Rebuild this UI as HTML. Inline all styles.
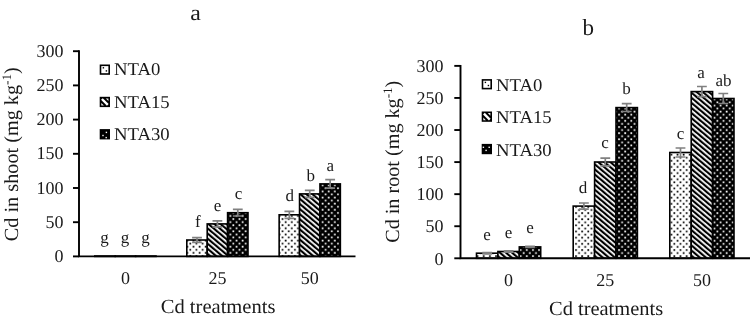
<!DOCTYPE html>
<html><head><meta charset="utf-8"><style>
html,body{margin:0;padding:0;background:#fff;width:750px;height:321px;overflow:hidden}
svg{display:block;will-change:transform}
text{font-family:"Liberation Serif", serif;fill:#1a1a1a;text-rendering:geometricPrecision}
</style></head><body>
<svg width="750" height="321" viewBox="0 0 750 321">
<defs>
<pattern id="LpDotW" patternUnits="userSpaceOnUse" x="4.8" y="2.75" width="6.15" height="6.15"><rect width="6.15" height="6.15" fill="#fff"/><rect x="0.2" y="0.2" width="1.7" height="1.7" fill="#000"/><rect x="3.275" y="3.275" width="1.7" height="1.7" fill="#000"/></pattern>
<pattern id="LpDotB" patternUnits="userSpaceOnUse" x="4.8" y="2.75" width="6.15" height="6.15"><rect width="6.15" height="6.15" fill="#000"/><rect x="0.2" y="0.2" width="1.7" height="1.7" fill="#fff"/><rect x="3.275" y="3.275" width="1.7" height="1.7" fill="#fff"/></pattern>
<pattern id="LpStr" patternUnits="userSpaceOnUse" x="0.325" width="3.9" height="3.9" patternTransform="rotate(-50)"><rect width="3.9" height="3.9" fill="#fff"/><rect width="2.15" height="3.9" fill="#000"/></pattern>
<pattern id="RpDotW" patternUnits="userSpaceOnUse" x="3.0" y="2.95" width="6.15" height="6.15"><rect width="6.15" height="6.15" fill="#fff"/><rect x="0.2" y="0.2" width="1.7" height="1.7" fill="#000"/><rect x="3.275" y="3.275" width="1.7" height="1.7" fill="#000"/></pattern>
<pattern id="RpDotB" patternUnits="userSpaceOnUse" x="3.0" y="2.95" width="6.15" height="6.15"><rect width="6.15" height="6.15" fill="#000"/><rect x="0.2" y="0.2" width="1.7" height="1.7" fill="#fff"/><rect x="3.275" y="3.275" width="1.7" height="1.7" fill="#fff"/></pattern>
<pattern id="RpStr" patternUnits="userSpaceOnUse" x="1.925" width="3.9" height="3.9" patternTransform="rotate(-50)"><rect width="3.9" height="3.9" fill="#fff"/><rect width="2.15" height="3.9" fill="#000"/></pattern>
</defs>
<rect x="94.80" y="256.00" width="20.40" height="0.40" fill="url(#LpDotW)" stroke="#000" stroke-width="1.6"/>
<rect x="115.20" y="256.00" width="20.40" height="0.40" fill="url(#LpStr)" stroke="#000" stroke-width="1.6"/>
<rect x="135.60" y="256.00" width="20.40" height="0.40" fill="url(#LpDotB)" stroke="#000" stroke-width="1.6"/>
<rect x="186.80" y="240.00" width="20.40" height="16.40" fill="url(#LpDotW)" stroke="#000" stroke-width="1.6"/>
<rect x="207.20" y="223.90" width="20.40" height="32.50" fill="url(#LpStr)" stroke="#000" stroke-width="1.6"/>
<rect x="227.60" y="212.70" width="20.40" height="43.70" fill="url(#LpDotB)" stroke="#000" stroke-width="1.6"/>
<rect x="279.15" y="214.80" width="20.40" height="41.60" fill="url(#LpDotW)" stroke="#000" stroke-width="1.6"/>
<rect x="299.55" y="193.90" width="20.40" height="62.50" fill="url(#LpStr)" stroke="#000" stroke-width="1.6"/>
<rect x="319.95" y="183.90" width="20.40" height="72.50" fill="url(#LpDotB)" stroke="#000" stroke-width="1.6"/>
<path d="M192.10 237.60H201.90M192.10 242.40H201.90M197.00 237.60V242.40" stroke="#808080" stroke-width="1.7" fill="none"/>
<path d="M212.50 220.90H222.30M212.50 226.90H222.30M217.40 220.90V226.90" stroke="#808080" stroke-width="1.7" fill="none"/>
<path d="M232.90 209.40H242.70M232.90 216.00H242.70M237.80 209.40V216.00" stroke="#808080" stroke-width="1.7" fill="none"/>
<path d="M284.45 211.30H294.25M284.45 218.30H294.25M289.35 211.30V218.30" stroke="#808080" stroke-width="1.7" fill="none"/>
<path d="M304.85 190.40H314.65M304.85 197.40H314.65M309.75 190.40V197.40" stroke="#808080" stroke-width="1.7" fill="none"/>
<path d="M325.25 179.60H335.05M325.25 188.20H335.05M330.15 179.60V188.20" stroke="#808080" stroke-width="1.7" fill="none"/>
<text x="104.40" y="243.10" text-anchor="middle" font-size="17">g</text>
<text x="125.00" y="243.10" text-anchor="middle" font-size="17">g</text>
<text x="145.40" y="243.10" text-anchor="middle" font-size="17">g</text>
<text x="197.80" y="226.80" text-anchor="middle" font-size="17">f</text>
<text x="217.60" y="210.50" text-anchor="middle" font-size="17">e</text>
<text x="238.60" y="199.45" text-anchor="middle" font-size="17">c</text>
<text x="289.65" y="201.10" text-anchor="middle" font-size="17">d</text>
<text x="310.65" y="180.95" text-anchor="middle" font-size="17">b</text>
<text x="330.35" y="171.40" text-anchor="middle" font-size="17">a</text>
<path d="M79 50.2V256.4H355.5" stroke="#000" stroke-width="1.9" fill="none"/>
<path d="M73 256.40H79" stroke="#000" stroke-width="1.9"/>
<text x="63.5" y="261.90" text-anchor="end" font-size="18">0</text>
<path d="M73 222.20H79" stroke="#000" stroke-width="1.9"/>
<text x="63.5" y="227.70" text-anchor="end" font-size="18">50</text>
<path d="M73 188.00H79" stroke="#000" stroke-width="1.9"/>
<text x="63.5" y="193.50" text-anchor="end" font-size="18">100</text>
<path d="M73 153.80H79" stroke="#000" stroke-width="1.9"/>
<text x="63.5" y="159.30" text-anchor="end" font-size="18">150</text>
<path d="M73 119.60H79" stroke="#000" stroke-width="1.9"/>
<text x="63.5" y="125.10" text-anchor="end" font-size="18">200</text>
<path d="M73 85.40H79" stroke="#000" stroke-width="1.9"/>
<text x="63.5" y="90.90" text-anchor="end" font-size="18">250</text>
<path d="M73 51.20H79" stroke="#000" stroke-width="1.9"/>
<text x="63.5" y="56.70" text-anchor="end" font-size="18">300</text>
<text x="125.40" y="283.7" text-anchor="middle" font-size="18">0</text>
<text x="217.40" y="283.7" text-anchor="middle" font-size="18">25</text>
<text x="309.75" y="283.7" text-anchor="middle" font-size="18">50</text>
<text transform="translate(160.7 313.3) scale(1.028 1)" font-size="20">Cd treatments</text>
<text transform="translate(17.8 241.2) rotate(-90) scale(1.012 1)" font-size="20">Cd in shoot (mg kg<tspan font-size="13" dy="-7">-1</tspan><tspan dy="7">)</tspan></text>
<text transform="translate(190.3 19.7) scale(1.085 1)" font-size="22">a</text>
<rect x="100.50" y="65.30" width="8.70" height="8.70" fill="#fff" stroke="#000" stroke-width="1.6"/>
<rect x="102.70" y="67.10" width="1.4" height="1.4" fill="#000"/><rect x="105.70" y="70.20" width="1.4" height="1.4" fill="#000"/>
<text transform="translate(114 75.20) scale(1.04 1)" font-size="18">NTA0</text>
<rect x="99.70" y="96.80" width="10.30" height="10.30" fill="#000"/>
<path d="M101.90 99.00L107.80 104.90" stroke="#fff" stroke-width="2.4"/>
<path d="M105.80 98.40H108.40V101.00Z M101.30 102.90V105.50H103.90Z" fill="#eee"/>
<text transform="translate(114 107.50) scale(1.04 1)" font-size="18">NTA15</text>
<rect x="99.70" y="129.10" width="10.30" height="10.30" fill="#000"/>
<rect x="105.70" y="131.70" width="1.4" height="1.4" fill="#fff"/>
<rect x="102.30" y="134.80" width="1.4" height="1.4" fill="#fff"/>
<rect x="105.50" y="136.90" width="1.4" height="1.4" fill="#fff"/>
<text transform="translate(114 139.80) scale(1.04 1)" font-size="18">NTA30</text>
<rect x="476.50" y="253.20" width="21.40" height="5.10" fill="url(#RpDotW)" stroke="#000" stroke-width="1.6"/>
<rect x="497.90" y="251.50" width="21.40" height="6.80" fill="url(#RpStr)" stroke="#000" stroke-width="1.6"/>
<rect x="519.30" y="246.90" width="21.40" height="11.40" fill="url(#RpDotB)" stroke="#000" stroke-width="1.6"/>
<rect x="573.20" y="206.10" width="21.40" height="52.20" fill="url(#RpDotW)" stroke="#000" stroke-width="1.6"/>
<rect x="594.60" y="162.00" width="21.40" height="96.30" fill="url(#RpStr)" stroke="#000" stroke-width="1.6"/>
<rect x="616.00" y="107.60" width="21.40" height="150.70" fill="url(#RpDotB)" stroke="#000" stroke-width="1.6"/>
<rect x="669.80" y="152.50" width="21.40" height="105.80" fill="url(#RpDotW)" stroke="#000" stroke-width="1.6"/>
<rect x="691.20" y="91.60" width="21.40" height="166.70" fill="url(#RpStr)" stroke="#000" stroke-width="1.6"/>
<rect x="712.60" y="98.50" width="21.40" height="159.80" fill="url(#RpDotB)" stroke="#000" stroke-width="1.6"/>
<path d="M482.30 252.60H492.10M482.30 253.80H492.10M487.20 252.60V253.80" stroke="#808080" stroke-width="1.7" fill="none"/>
<path d="M503.70 250.90H513.50M503.70 252.10H513.50M508.60 250.90V252.10" stroke="#808080" stroke-width="1.7" fill="none"/>
<path d="M525.10 246.40H534.90M525.10 247.40H534.90M530.00 246.40V247.40" stroke="#808080" stroke-width="1.7" fill="none"/>
<path d="M579.00 203.00H588.80M579.00 209.20H588.80M583.90 203.00V209.20" stroke="#808080" stroke-width="1.7" fill="none"/>
<path d="M600.40 158.10H610.20M600.40 165.90H610.20M605.30 158.10V165.90" stroke="#808080" stroke-width="1.7" fill="none"/>
<path d="M621.80 103.70H631.60M621.80 111.50H631.60M626.70 103.70V111.50" stroke="#808080" stroke-width="1.7" fill="none"/>
<path d="M675.60 148.00H685.40M675.60 157.00H685.40M680.50 148.00V157.00" stroke="#808080" stroke-width="1.7" fill="none"/>
<path d="M697.00 86.50H706.80M697.00 96.70H706.80M701.90 86.50V96.70" stroke="#808080" stroke-width="1.7" fill="none"/>
<path d="M718.40 93.50H728.20M718.40 103.50H728.20M723.30 93.50V103.50" stroke="#808080" stroke-width="1.7" fill="none"/>
<text x="486.90" y="239.70" text-anchor="middle" font-size="17">e</text>
<text x="508.50" y="237.90" text-anchor="middle" font-size="17">e</text>
<text x="530.00" y="233.30" text-anchor="middle" font-size="17">e</text>
<text x="583.00" y="192.75" text-anchor="middle" font-size="17">d</text>
<text x="604.90" y="148.20" text-anchor="middle" font-size="17">c</text>
<text x="626.50" y="93.95" text-anchor="middle" font-size="17">b</text>
<text x="680.40" y="139.25" text-anchor="middle" font-size="17">c</text>
<text x="701.00" y="78.30" text-anchor="middle" font-size="17">a</text>
<text x="723.40" y="85.50" text-anchor="middle" font-size="17">ab</text>
<path d="M460.5 65V258.3H750" stroke="#000" stroke-width="1.9" fill="none"/>
<path d="M454.3 258.30H460.5" stroke="#000" stroke-width="1.9"/>
<text x="443.5" y="264.50" text-anchor="end" font-size="18">0</text>
<path d="M454.3 226.23H460.5" stroke="#000" stroke-width="1.9"/>
<text x="443.5" y="232.43" text-anchor="end" font-size="18">50</text>
<path d="M454.3 194.16H460.5" stroke="#000" stroke-width="1.9"/>
<text x="443.5" y="200.36" text-anchor="end" font-size="18">100</text>
<path d="M454.3 162.09H460.5" stroke="#000" stroke-width="1.9"/>
<text x="443.5" y="168.29" text-anchor="end" font-size="18">150</text>
<path d="M454.3 130.02H460.5" stroke="#000" stroke-width="1.9"/>
<text x="443.5" y="136.22" text-anchor="end" font-size="18">200</text>
<path d="M454.3 97.95H460.5" stroke="#000" stroke-width="1.9"/>
<text x="443.5" y="104.15" text-anchor="end" font-size="18">250</text>
<path d="M454.3 65.88H460.5" stroke="#000" stroke-width="1.9"/>
<text x="443.5" y="72.08" text-anchor="end" font-size="18">300</text>
<text x="508.60" y="286.3" text-anchor="middle" font-size="18">0</text>
<text x="605.30" y="286.3" text-anchor="middle" font-size="18">25</text>
<text x="701.90" y="286.3" text-anchor="middle" font-size="18">50</text>
<text transform="translate(549 314.8) scale(1.022 1)" font-size="20">Cd treatments</text>
<text transform="translate(398.9 242.8) rotate(-90) scale(1.008 1)" font-size="20">Cd in root (mg kg<tspan font-size="13" dy="-7">-1</tspan><tspan dy="7">)</tspan></text>
<text transform="translate(582.4 35.3) scale(1.0 1)" font-size="23">b</text>
<rect x="482.50" y="79.90" width="8.70" height="8.70" fill="#fff" stroke="#000" stroke-width="1.6"/>
<rect x="484.70" y="81.70" width="1.4" height="1.4" fill="#000"/><rect x="487.70" y="84.80" width="1.4" height="1.4" fill="#000"/>
<text transform="translate(496 90.80) scale(1.04 1)" font-size="18">NTA0</text>
<rect x="481.70" y="111.50" width="10.30" height="10.30" fill="#000"/>
<path d="M483.90 113.70L489.80 119.60" stroke="#fff" stroke-width="2.4"/>
<path d="M487.80 113.10H490.40V115.70Z M483.30 117.60V120.20H485.90Z" fill="#eee"/>
<text transform="translate(496 123.20) scale(1.04 1)" font-size="18">NTA15</text>
<rect x="481.70" y="143.90" width="10.30" height="10.30" fill="#000"/>
<rect x="482.70" y="146.60" width="1.4" height="1.4" fill="#fff"/>
<rect x="488.50" y="146.60" width="1.4" height="1.4" fill="#fff"/>
<rect x="485.40" y="149.70" width="1.4" height="1.4" fill="#fff"/>
<text transform="translate(496 155.60) scale(1.04 1)" font-size="18">NTA30</text>

</svg>
</body></html>
